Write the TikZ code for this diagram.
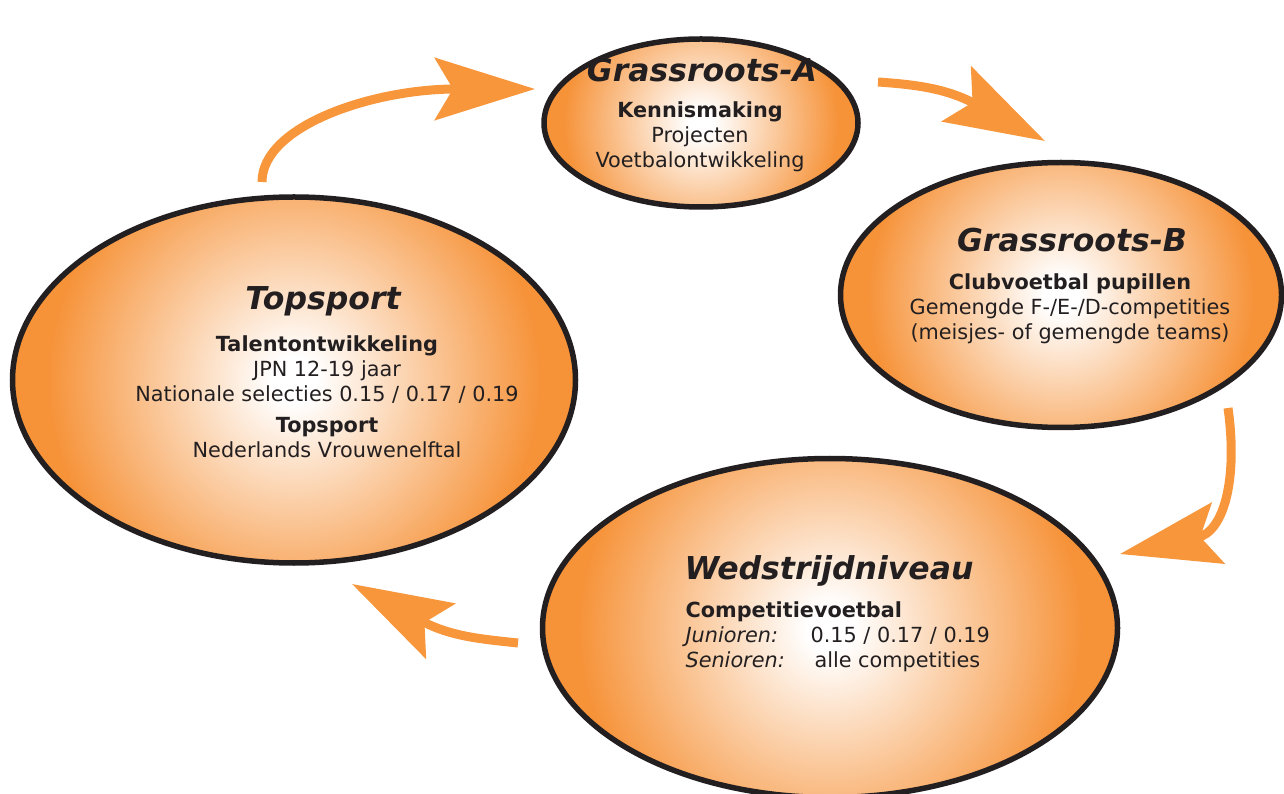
\documentclass[tikz,border=0pt]{standalone}
\usepackage{fontspec}
\setmainfont{DejaVu Sans}
\usetikzlibrary{shapes.geometric,arrows.meta}

\definecolor{eggor}{RGB}{246,146,56}
\definecolor{flowor}{RGB}{247,150,59}
\definecolor{ink}{RGB}{35,31,32}
\pgfdeclareradialshading{eggglow}{\pgfpoint{0bp}{0bp}}{color(0bp)=(white); color(2bp)=(white); color(22bp)=(eggor); color(50bp)=(eggor)}

\begin{document}
\begin{tikzpicture}[x=1pt, y=1pt,
    egg/.style = {ellipse, fill=eggor, inner sep=0pt,
        path picture={\shade[shading=eggglow] (path picture bounding box.center) circle[radius=#1];},
        postaction={draw=ink, line width=5.5pt}},
    flow/.style = {draw=flowor, line width=9pt, -{Stealth[length=100pt, width=62pt, inset=18pt]}},
    eggtitle/.style = {font=\fontsize{31.5}{38}\selectfont\bfseries\itshape, text=ink, anchor=base},
    eggtext/.style = {font=\fontsize{20.8}{25}\selectfont, text=ink, align=center, anchor=base}]
    \useasboundingbox (0,0) rectangle (1284,793);

    % the four stages
    \node[egg=156, minimum width=314pt, minimum height=168pt] (ga) at (701,670) {};
    \node[egg=220, minimum width=441pt, minimum height=265pt] (gb) at (1061,498) {};
    \node[egg=281, minimum width=563pt, minimum height=366pt] (ts) at (294,413) {};
    \node[egg=287, minimum width=575pt, minimum height=339pt] (wn) at (830,165) {};

    % texts (base = last line)
    \node[eggtitle] (gaT) at (702,711) {Grassroots-A};
    \node[eggtext] (gaB) at (700,625.5) {\textbf{Kennismaking}\\Projecten\\Voetbalontwikkeling};
    \node[eggtitle] (gbT) at (1072,541) {Grassroots-B};
    \node[eggtext] (gbB) at (1070,453.5) {\textbf{Clubvoetbal pupillen}\\Gemengde F-/E-/D-competities\\(meisjes- of gemengde teams)};
    \node[eggtitle] (tsT) at (323,483) {Topsport};
    \node[eggtext] (tsB) at (327,335.5) {\textbf{Talentontwikkeling}\\JPN 12-19 jaar\\Nationale selecties 0.15 / 0.17 / 0.19\\[6pt]\textbf{Topsport}\\Nederlands Vrouwenelftal};
    \node[eggtitle] (wnT) at (829,214) {Wedstrijdniveau};
    \node[eggtext, align=left, anchor=base west] (wnB) at (682,125.5) {\textbf{Competitievoetbal}\\\makebox[125pt][l]{\textit{Junioren:}}0.15 / 0.17 / 0.19\\\makebox[129pt][l]{\textit{Senioren:}}alle competities};

    % arrow ends
    \coordinate (ts-out) at (262,611);
    \coordinate (ga-in) at (535,704);
    \coordinate (ga-out) at (878,711);
    \coordinate (gb-in) at (1045,652);
    \coordinate (gb-out) at (1228,385);
    \coordinate (wn-in) at (1120,239);
    \coordinate (wn-out) at (518,150);
    \coordinate (ts-in) at (352,209);

    \draw[flow] (ts-out) to[out=90, in=180, out looseness=0.5, in looseness=1.44] (ga-in);
    \draw[flow] (ga-out) to[out=-4, in=152, out looseness=0.55, in looseness=1.62] (gb-in);
    \draw[flow] (gb-out) to[out=-82, in=12, out looseness=1.0, in looseness=1.5] (wn-in);
    \draw[flow] (wn-out) to[out=174, in=-28, out looseness=0.55, in looseness=1.62] (ts-in);
\end{tikzpicture}
\end{document}
